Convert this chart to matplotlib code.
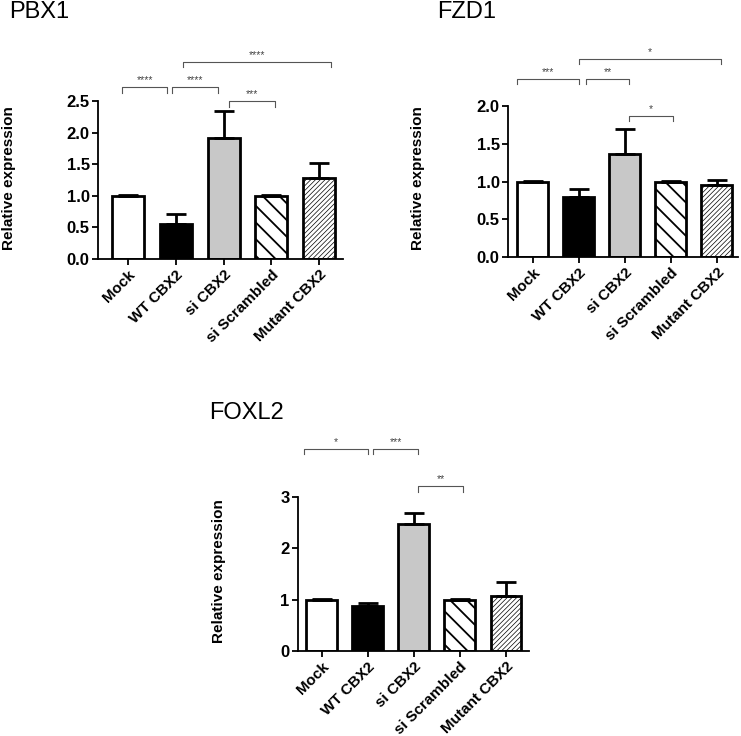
import numpy as np
import matplotlib
matplotlib.use('Agg')
import matplotlib.pyplot as plt

plt.rcParams['font.family'] = ['Liberation Sans', 'DejaVu Sans']
plt.rcParams['hatch.linewidth'] = 0.9

# data
categories = ['Mock', 'WT CBX2', 'si CBX2', 'si Scrambled', 'Mutant CBX2']

pbx1_mean = [1.0, 0.56, 1.91, 1.0, 1.28]
pbx1_err = [0.01, 0.15, 0.43, 0.01, 0.24]
fzd1_mean = [1.0, 0.80, 1.36, 1.0, 0.95]
fzd1_err = [0.01, 0.095, 0.34, 0.01, 0.07]
foxl2_mean = [1.0, 0.87, 2.48, 1.0, 1.08]
foxl2_err = [0.02, 0.07, 0.21, 0.005, 0.27]

# significance brackets: (x start, x end, height, stars)
pbx1_sig = [(-0.13, 0.82, 2.72, '****'), (0.92, 1.88, 2.72, '****'),
            (2.11, 3.08, 2.50, '***'), (1.15, 4.25, 3.12, '****')]
fzd1_sig = [(-0.35, 1.01, 2.36, '***'), (1.15, 2.10, 2.36, '**'),
            (2.08, 3.04, 1.87, '*'), (1.01, 4.09, 2.62, '*')]
foxl2_sig = [(-0.38, 1.01, 3.94, '*'), (1.12, 2.09, 3.94, '***'),
             (2.09, 3.07, 3.21, '**')]

colors = ['white', 'black', '#c8c8c8', 'white', 'white']
hatches = [None, None, None, '\\\\', '///////']
hatch_lw = [0, 0, 0, 1.3, 0.5]

W, H = 741, 736
fig = plt.figure(figsize=(W / 100, H / 100), dpi=100)


def px_axes(left, right, top, bottom):
    return fig.add_axes([left / W, 1 - bottom / H, (right - left) / W, (bottom - top) / H])


def panel(ax, means, errs, sigs, ymax, yticks, fmt, xlim):
    x = np.arange(len(categories))
    bars = ax.bar(x, means, width=0.67, color=colors, edgecolor='black', linewidth=2, zorder=2)
    for b, h, hl in zip(bars, hatches, hatch_lw):
        if h:
            b.set_hatch(h)
            try:
                b.set_hatch_linewidth(hl)
            except AttributeError:
                pass
    ax.errorbar(x, means, yerr=[np.zeros(len(errs)), errs], fmt='none', ecolor='black',
                elinewidth=2, capsize=7, capthick=2, zorder=3)
    ax.set_ylim(0, ymax)
    ax.set_xlim(*xlim)
    ax.set_yticks(yticks)
    ax.set_yticklabels([fmt % v for v in yticks], fontweight='bold', fontsize=12)
    ax.set_xticks(x)
    ax.set_xticklabels(categories, rotation=45, ha='right', rotation_mode='anchor',
                       fontweight='bold', fontsize=11)
    for s in ['top', 'right']:
        ax.spines[s].set_visible(False)
    for s in ['left', 'bottom']:
        ax.spines[s].set_linewidth(1.3)
    ax.tick_params(width=1.3, length=4, pad=2)
    tip = 0.035 * ymax
    for x1, x2, y, lab in sigs:
        ax.plot([x1, x1, x2, x2], [y - tip, y, y, y - tip], color='#555555', lw=0.8, clip_on=False)
        ax.text((x1 + x2) / 2, y + 0.012 * ymax, lab, ha='center', va='bottom', fontsize=7.5,
                color='#444444', clip_on=False)


ax1 = px_axes(98, 343, 101, 259)
panel(ax1, pbx1_mean, pbx1_err, pbx1_sig, 2.5, [0, 0.5, 1.0, 1.5, 2.0, 2.5], '%.1f', (-0.63, 4.5))
ax2 = px_axes(508, 738, 106, 257)
panel(ax2, fzd1_mean, fzd1_err, fzd1_sig, 2.0, [0, 0.5, 1.0, 1.5, 2.0], '%.1f', (-0.54, 4.46))
ax3 = px_axes(298, 529, 497, 651)
panel(ax3, foxl2_mean, foxl2_err, foxl2_sig, 3, [0, 1, 2, 3], '%d', (-0.51, 4.5))

# titles and y labels
for tx, ty, t in [(9, 12, 'PBX1'), (437, 12, 'FZD1'), (209, 413, 'FOXL2')]:
    fig.text(tx / W, 1 - ty / H, t, ha='left', va='center', fontsize=17)
for lx, ly in [(9, 178), (418, 178), (219, 571)]:
    fig.text(lx / W, 1 - ly / H, 'Relative expression', rotation=90, ha='center', va='center',
             fontweight='bold', fontsize=11)

fig.savefig('out.png', dpi=100)
